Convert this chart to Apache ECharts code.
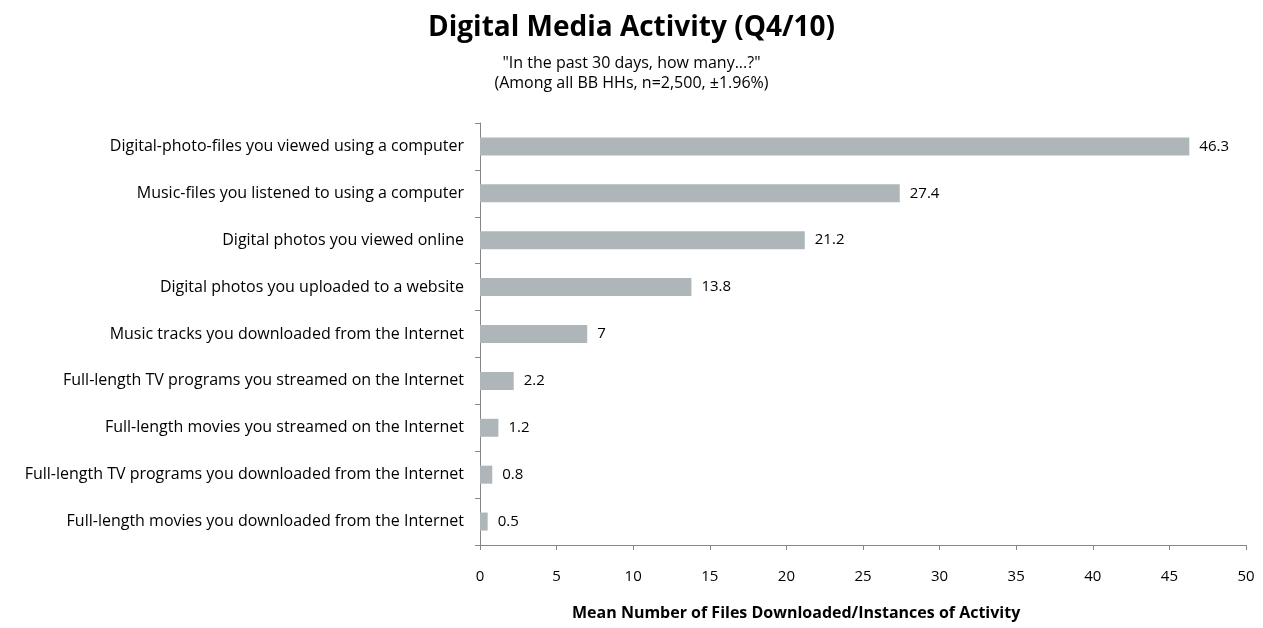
<!DOCTYPE html>
<html><head><meta charset="utf-8">
<script src="https://cdn.jsdelivr.net/npm/echarts@6/dist/echarts.min.js"></script>
<style>html,body{margin:0;padding:0;background:#fff}#c{width:1263px;height:628px}</style>
</head><body><div id="c"></div>
<script>
const categories = [
  "Digital-photo-files you viewed using a computer",
  "Music-files you listened to using a computer",
  "Digital photos you viewed online",
  "Digital photos you uploaded to a website",
  "Music tracks you downloaded from the Internet",
  "Full-length TV programs you streamed on the Internet",
  "Full-length movies you streamed on the Internet",
  "Full-length TV programs you downloaded from the Internet",
  "Full-length movies you downloaded from the Internet"
];
const values = [46.3, 27.4, 21.2, 13.8, 7, 2.2, 1.2, 0.8, 0.5];
const xTicks = [0, 5, 10, 15, 20, 25, 30, 35, 40, 45, 50];

const chart = echarts.init(document.getElementById('c'));
const F = '"Open Sans", sans-serif';
chart.setOption({
  animation: false,
  title: [
    {text: 'Digital Media Activity (Q4/10)', left: 'center', top: 9,
     textStyle: {fontFamily: F, fontSize: 28, fontWeight: 'bold', color: '#000'}},
    {text: '"In the past 30 days, how many...?"\n(Among all BB HHs, n=2,500, \u00b11.96%)', left: 'center', top: 48,
     textStyle: {fontFamily: F, fontSize: 16, fontWeight: 'normal', color: '#000', lineHeight: 20}},
    {text: 'Mean Number of Files Downloaded/Instances of Activity', left: 567, top: 600,
     textStyle: {fontFamily: F, fontSize: 16, fontWeight: 'bold', color: '#000'}}
  ],
  grid: {left: 480, right: 17, top: 123, bottom: 83, containLabel: false},
  xAxis: {
    type: 'value', min: 0, max: 50, interval: 5,
    axisLine: {show: true, lineStyle: {color: '#868686'}},
    axisTick: {show: true, length: 5, lineStyle: {color: '#868686'}},
    splitLine: {show: false},
    axisLabel: {fontFamily: F, fontSize: 15, color: '#000', margin: 24,
      formatter: v => xTicks.includes(v) ? String(v) : ''}
  },
  yAxis: {
    type: 'category', data: categories, inverse: true,
    axisLine: {show: true, lineStyle: {color: '#868686'}},
    axisTick: {show: true, length: 5, lineStyle: {color: '#868686'}},
    axisLabel: {fontFamily: F, fontSize: 16, color: '#000', margin: 16}
  },
  series: [{
    type: 'bar', data: values, barWidth: 18,
    itemStyle: {color: '#AEB6BA'},
    label: {show: true, position: 'right', distance: 10, fontFamily: F, fontSize: 15, color: '#000'}
  }]
});
</script></body></html>
